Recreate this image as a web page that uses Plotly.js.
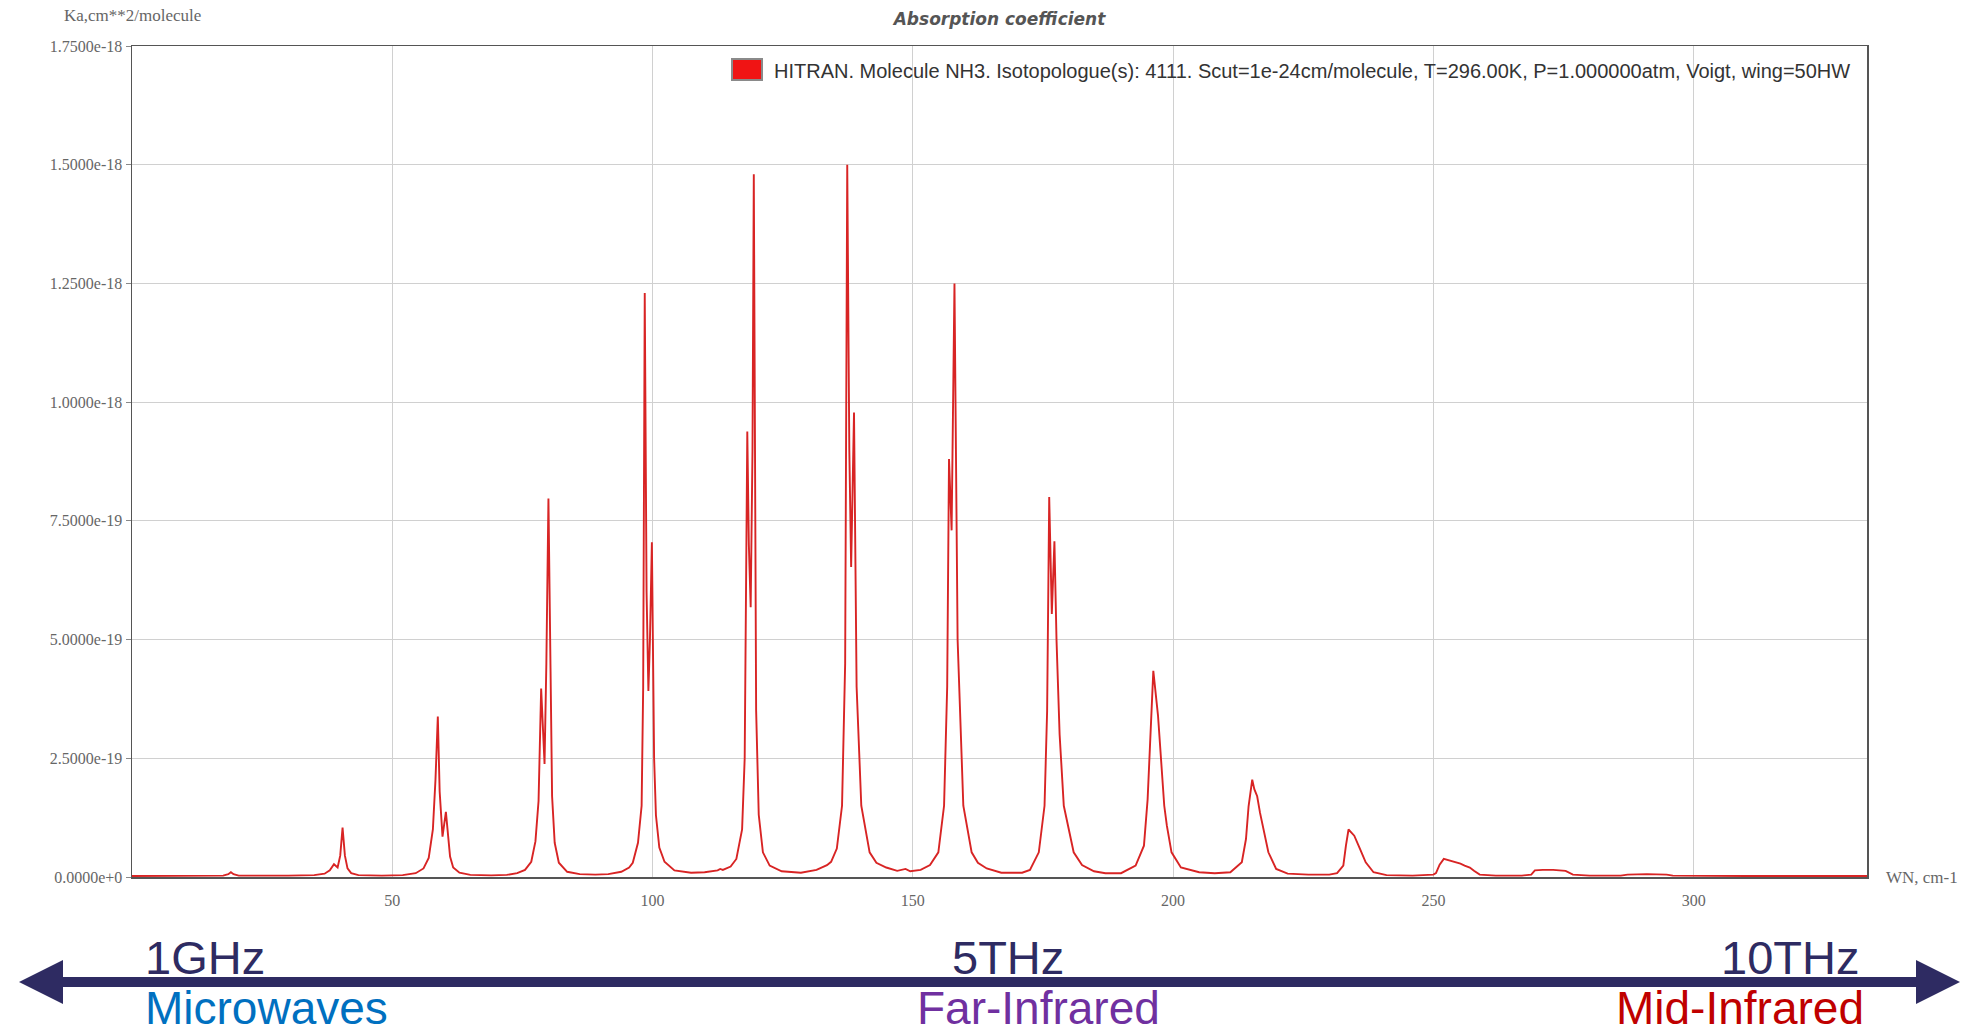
<!DOCTYPE html>
<html>
<head>
<meta charset="utf-8">
<script src="https://cdn.plot.ly/plotly-3.0.1.min.js"></script>
<style>html,body{margin:0;padding:0;background:#fff;}#chart{width:1964px;height:1036px;}</style>
</head>
<body>
<div id="chart"></div>
<script>
// Wavenumber (cm-1) and absorption coefficient (units of 1e-19 cm^2/molecule)
const wavenumber = [
  0, 10, 17.5, 18.5, 19.0, 19.5, 20.5, 30, 35,
  37.0, 38.0, 38.8, 39.5, 40.0, 40.45, 40.9, 41.4, 42.1, 43.5, 48,
  52, 54.5, 56.0, 57.0, 57.8, 58.3, 58.75, 59.1, 59.65, 60.3, 60.7, 61.1, 61.7, 62.9, 65, 69,
  72, 74, 75.5, 76.7, 77.5, 78.1, 78.6, 79.25, 79.6, 80.0, 80.4, 80.7, 81.2, 82.0, 83.6, 86, 89,
  91.5, 94, 95.5, 96.2, 97.2, 97.9, 98.2, 98.5, 98.85, 99.2, 99.5, 99.87, 100.3, 100.65, 101.3, 102.3, 104.2, 107.4, 110,
  112.5, 113.0, 113.5, 115, 116.1, 117.2, 117.7, 118.2, 118.5, 118.85, 119.2, 119.45, 119.9, 120.4, 121.2, 122.5, 124.8, 128.5,
  131.5, 133.5, 134.3, 135.4, 136.4, 137.0, 137.4, 137.8, 138.15, 138.4, 138.7, 139.2, 140.1, 141.7, 143.0, 144.9, 147, 148.6, 149.5,
  151.5, 153.3, 154.9, 156.0, 156.6, 156.95, 157.45, 158.0, 158.6, 159.7, 161.3, 162.5, 164.2, 167, 171,
  172.5, 174.2, 175.3, 175.8, 176.2, 176.7, 177.2, 177.6, 178.2, 179.0, 180.9, 182.5, 184.8, 187, 190,
  192.8, 194.4, 195.1, 195.7, 196.2, 197.1, 197.9, 198.3, 198.8, 199.7, 201.5, 205, 208,
  211.0, 213.2, 214.0, 214.5, 215.2, 215.6, 216.15, 216.7, 217.6, 218.3, 219.8, 222, 226, 230,
  231.5, 232.7, 233.2, 233.7, 234.3, 234.8, 235.9, 237.0, 238.5, 241, 246,
  250.0, 250.5, 251.2, 252.0, 253.0, 254.2, 255.2, 256.0, 257.0, 257.8, 258.9, 262, 267,
  268.8, 269.5, 271, 273, 275.4, 276.8, 280, 286, 287.3, 291, 294.8, 296, 310, 320, 333.3
];
const kaE19 = [
  0.02, 0.02, 0.03, 0.06, 0.10, 0.06, 0.03, 0.03, 0.04,
  0.07, 0.14, 0.27, 0.20, 0.45, 1.04, 0.45, 0.18, 0.08, 0.04, 0.03,
  0.04, 0.08, 0.18, 0.40, 1.0, 2.05, 3.38, 1.8, 0.85, 1.37, 0.85, 0.43, 0.20, 0.09, 0.045, 0.035,
  0.045, 0.08, 0.15, 0.32, 0.75, 1.6, 3.97, 2.38, 4.5, 7.97, 4.4, 1.7, 0.72, 0.30, 0.11, 0.06, 0.05,
  0.06, 0.11, 0.20, 0.30, 0.72, 1.5, 4.0, 12.3, 6.0, 3.92, 5.0, 7.05, 2.5, 1.3, 0.62, 0.32, 0.14, 0.09, 0.10,
  0.14, 0.17, 0.15, 0.22, 0.38, 1.0, 2.5, 9.38, 7.0, 5.68, 9.0, 14.8, 3.5, 1.31, 0.52, 0.24, 0.12, 0.09,
  0.15, 0.25, 0.32, 0.6, 1.5, 4.5, 15.0, 9.0, 6.53, 8.0, 9.78, 4.0, 1.5, 0.52, 0.30, 0.20, 0.13, 0.17, 0.12,
  0.15, 0.25, 0.52, 1.5, 4.0, 8.8, 7.3, 12.5, 5.0, 1.5, 0.52, 0.30, 0.18, 0.09, 0.09,
  0.15, 0.52, 1.5, 3.5, 8.0, 5.54, 7.07, 5.0, 3.0, 1.5, 0.52, 0.25, 0.12, 0.08, 0.08,
  0.24, 0.66, 1.63, 3.03, 4.34, 3.4, 2.2, 1.5, 1.08, 0.52, 0.20, 0.10, 0.08,
  0.10, 0.31, 0.80, 1.49, 2.05, 1.85, 1.70, 1.35, 0.87, 0.52, 0.17, 0.07, 0.05, 0.05,
  0.08, 0.24, 0.66, 1.0, 0.93, 0.87, 0.59, 0.31, 0.10, 0.04, 0.03,
  0.05, 0.08, 0.26, 0.38, 0.35, 0.31, 0.28, 0.24, 0.20, 0.13, 0.05, 0.03, 0.03,
  0.05, 0.14, 0.15, 0.15, 0.13, 0.05, 0.03, 0.03, 0.05, 0.06, 0.05, 0.03, 0.02, 0.02, 0.02
];
const xTickVals = [50, 100, 150, 200, 250, 300];
const yTickVals = [0, 2.5e-19, 5e-19, 7.5e-19, 1e-18, 1.25e-18, 1.5e-18, 1.75e-18];
const yTickText = yTickVals.map(v => v.toExponential(4));
const seriesName = "HITRAN. Molecule NH3. Isotopologue(s): 4111. Scut=1e-24cm/molecule, T=296.00K, P=1.000000atm, Voigt, wing=50HW";
const chartTitle = "Absorption coefficient";
const yUnit = "Ka,cm**2/molecule";
const xUnit = "WN, cm-1";
const bandFreqs = ["1GHz", "5THz", "10THz"];
const bandNames = ["Microwaves", "Far-Infrared", "Mid-Infrared"];

const ka = kaE19.map(v => v * 1e-19);

// layout geometry (pixels)
const W = 1964, H = 1036, L = 132, R = 1867, T = 46, B = 877;
const px = x => (x - L) / (R - L);
const py = y => (B - y) / (B - T);

const navy = '#2E2B62';
const serif = 'Liberation Serif, Times New Roman, serif';
const sans = 'Liberation Sans, Arial, sans-serif';

const trace = {
  x: wavenumber, y: ka, type: 'scatter', mode: 'lines', name: seriesName,
  line: {color: '#d82424', width: 1.9}, showlegend: false, hoverinfo: 'x+y'
};

const shapes = [
  // legend swatch
  {type: 'rect', xref: 'paper', yref: 'paper', x0: px(732), x1: px(762), y0: py(80), y1: py(59),
   fillcolor: '#f01414', line: {color: '#8a8a8a', width: 2}},
  // spectrum arrow
  {type: 'line', xref: 'paper', yref: 'paper', x0: px(55), x1: px(1925), y0: py(982), y1: py(982),
   line: {color: navy, width: 10}},
  {type: 'path', xref: 'paper', yref: 'paper', fillcolor: navy, line: {color: navy, width: 0},
   path: `M ${px(19)} ${py(982)} L ${px(63)} ${py(960)} L ${px(63)} ${py(1004)} Z`},
  {type: 'path', xref: 'paper', yref: 'paper', fillcolor: navy, line: {color: navy, width: 0},
   path: `M ${px(1960)} ${py(982)} L ${px(1916)} ${py(960)} L ${px(1916)} ${py(1004)} Z`}
];

const annotations = [
  {text: seriesName, xref: 'paper', yref: 'paper', x: px(772), y: py(71), xanchor: 'left', yanchor: 'middle',
   showarrow: false, font: {family: sans, size: 20, color: '#333'}},
  {text: yUnit, xref: 'paper', yref: 'paper', x: px(132), y: py(16), xanchor: 'center', yanchor: 'middle',
   showarrow: false, font: {family: serif, size: 17, color: '#666'}},
  {text: xUnit, xref: 'paper', yref: 'paper', x: px(1884), y: py(877), xanchor: 'left', yanchor: 'middle',
   showarrow: false, font: {family: serif, size: 17, color: '#666'}},
  {text: bandFreqs[0], xref: 'paper', yref: 'paper', x: px(143), y: py(957), xanchor: 'left', yanchor: 'middle',
   showarrow: false, font: {family: sans, size: 47, color: navy}},
  {text: bandFreqs[1], xref: 'paper', yref: 'paper', x: px(1008), y: py(957), xanchor: 'center', yanchor: 'middle',
   showarrow: false, font: {family: sans, size: 47, color: navy}},
  {text: bandFreqs[2], xref: 'paper', yref: 'paper', x: px(1861), y: py(957), xanchor: 'right', yanchor: 'middle',
   showarrow: false, font: {family: sans, size: 47, color: navy}},
  {text: bandNames[0], xref: 'paper', yref: 'paper', x: px(143), y: py(1008), xanchor: 'left', yanchor: 'middle',
   showarrow: false, font: {family: sans, size: 46, color: '#0070C0'}},
  {text: bandNames[1], xref: 'paper', yref: 'paper', x: px(1038), y: py(1008), xanchor: 'center', yanchor: 'middle',
   showarrow: false, font: {family: sans, size: 46, color: '#7030A0'}},
  {text: bandNames[2], xref: 'paper', yref: 'paper', x: px(1866), y: py(1008), xanchor: 'right', yanchor: 'middle',
   showarrow: false, font: {family: sans, size: 46, color: '#C00000'}}
];

const layout = {
  width: W, height: H,
  margin: {l: L, r: W - R, t: T, b: H - B, pad: 0},
  paper_bgcolor: '#ffffff', plot_bgcolor: '#ffffff',
  title: {text: chartTitle, x: 0.5, xref: 'paper', xanchor: 'center', y: 1 - 19 / H, yanchor: 'middle',
          font: {family: 'DejaVu Sans, sans-serif', size: 17, color: '#555', weight: 'bold', style: 'italic'}},
  xaxis: {range: [0, 333.3], tickvals: xTickVals, ticks: '', showgrid: true, gridcolor: '#d0d0d0', gridwidth: 1,
          zeroline: false, showline: true, mirror: true, linecolor: '#555', linewidth: 1.5,
          tickfont: {family: serif, size: 16, color: '#666'}, ticklabelstandoff: 8},
  yaxis: {range: [0, 1.75e-18], tickvals: yTickVals, ticktext: yTickText, ticks: 'outside', ticklen: 5, tickcolor: '#888',
          showgrid: true, gridcolor: '#d0d0d0', gridwidth: 1, zeroline: false, showline: true, mirror: true,
          linecolor: '#555', linewidth: 1.5, tickfont: {family: serif, size: 16, color: '#666'}},
  showlegend: false,
  shapes: shapes,
  annotations: annotations
};

Plotly.newPlot('chart', [trace], layout, {displayModeBar: false, staticPlot: true});
</script>
</body>
</html>
